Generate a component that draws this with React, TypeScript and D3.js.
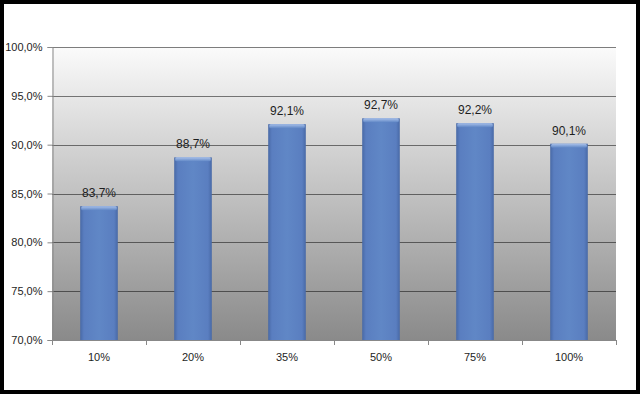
import * as d3 from 'd3';
import { useEffect, useRef } from 'react';

const width = 640;
const height = 394;

const categories = ['10%', '20%', '35%', '50%', '75%', '100%'];
const values = [83.7, 88.7, 92.1, 92.7, 92.2, 90.1];
const yTicks = [70, 75, 80, 85, 90, 95, 100];

const fmt = (v: number) => v.toFixed(1).replace('.', ',') + '%';

const App = () => {
  const containerRef = useRef<HTMLDivElement>(null);

  const margin = { top: 47, right: 24, bottom: 54, left: 52 };
  const font = '"Liberation Sans", Arial, sans-serif';

  useEffect(() => {
    containerRef.current.innerHTML = '';

    const svg = d3
      .select(containerRef.current)
      .append('svg')
      .attr('width', width)
      .attr('height', height)
      .style('display', 'block');

    const defs = svg.append('defs');

    const bg = defs
      .append('linearGradient')
      .attr('id', 'plotBg')
      .attr('x1', 0)
      .attr('y1', 0)
      .attr('x2', 0)
      .attr('y2', 1);
    bg.append('stop').attr('offset', '0%').attr('stop-color', '#fbfbfb');
    bg.append('stop').attr('offset', '35%').attr('stop-color', '#d2d2d2');
    bg.append('stop').attr('offset', '100%').attr('stop-color', '#8a8a8a');

    const barGrad = defs
      .append('linearGradient')
      .attr('id', 'barFill')
      .attr('x1', 0)
      .attr('y1', 0)
      .attr('x2', 1)
      .attr('y2', 0);
    barGrad.append('stop').attr('offset', '0%').attr('stop-color', '#4869a6');
    barGrad.append('stop').attr('offset', '10%').attr('stop-color', '#5a7ec0');
    barGrad.append('stop').attr('offset', '50%').attr('stop-color', '#6087c6');
    barGrad.append('stop').attr('offset', '90%').attr('stop-color', '#5a7ec0');
    barGrad.append('stop').attr('offset', '100%').attr('stop-color', '#4869a6');

    const topGrad = defs
      .append('linearGradient')
      .attr('id', 'barTop')
      .attr('x1', 0)
      .attr('y1', 0)
      .attr('x2', 0)
      .attr('y2', 1);
    topGrad.append('stop').attr('offset', '0%').attr('stop-color', '#a9c1ea');
    topGrad.append('stop').attr('offset', '100%').attr('stop-color', '#6087c6');

    // white page with black frame
    svg
      .append('rect')
      .attr('x', 2)
      .attr('y', 2)
      .attr('width', width - 4)
      .attr('height', height - 4)
      .attr('fill', '#fff')
      .attr('stroke', '#000')
      .attr('stroke-width', 4);

    const x = d3
      .scaleBand()
      .domain(categories)
      .range([margin.left, width - margin.right])
      .paddingInner(0.6)
      .paddingOuter(0.3);

    const y = d3
      .scaleLinear()
      .domain([70, 100])
      .range([height - margin.bottom, margin.top]);

    const plotW = width - margin.right - margin.left;
    const plotH = height - margin.bottom - margin.top;

    svg
      .append('rect')
      .attr('x', margin.left)
      .attr('y', margin.top)
      .attr('width', plotW)
      .attr('height', plotH)
      .attr('fill', 'url(#plotBg)');

    // gridlines
    svg
      .append('g')
      .selectAll('line')
      .data(yTicks.filter((t) => t > 70))
      .join('line')
      .attr('x1', margin.left)
      .attr('x2', width - margin.right)
      .attr('y1', (d) => Math.round(y(d)) + 0.5)
      .attr('y2', (d) => Math.round(y(d)) + 0.5)
      .attr('stroke', '#000')
      .attr('stroke-opacity', 0.5)
      .attr('stroke-width', 1.2);

    // bars
    const bars = svg.append('g');
    bars
      .selectAll('rect.bar')
      .data(values)
      .join('rect')
      .attr('class', 'bar')
      .attr('x', (d, i) => x(categories[i]))
      .attr('y', (d) => y(d))
      .attr('width', x.bandwidth())
      .attr('height', (d) => y(70) - y(d))
      .attr('fill', 'url(#barFill)');

    bars
      .selectAll('rect.top')
      .data(values)
      .join('rect')
      .attr('class', 'top')
      .attr('x', (d, i) => x(categories[i]) + 1)
      .attr('y', (d) => y(d))
      .attr('width', x.bandwidth() - 2)
      .attr('height', 4)
      .attr('rx', 1.5)
      .attr('fill', 'url(#barTop)');

    // value labels
    svg
      .append('g')
      .selectAll('text')
      .data(values)
      .join('text')
      .attr('x', (d, i) => x(categories[i]) + x.bandwidth() / 2)
      .attr('y', (d) => y(d) - 9)
      .attr('text-anchor', 'middle')
      .attr('font-family', font)
      .attr('font-size', 12)
      .attr('fill', '#1e1e1e')
      .text((d) => fmt(d));

    // y axis
    const yAxis = svg
      .append('g')
      .attr('transform', `translate(${margin.left + 0.5},0)`)
      .call(
        d3
          .axisLeft(y)
          .tickValues(yTicks)
          .tickSize(5)
          .tickPadding(5)
          .tickFormat((d) => fmt(d as number))
      );
    yAxis.select('.domain').attr('stroke', '#888');
    yAxis.selectAll('.tick line').attr('stroke', '#888');
    yAxis
      .selectAll('text')
      .attr('font-family', font)
      .attr('font-size', 11)
      .attr('fill', '#1e1e1e');

    // x axis
    const bottom = height - margin.bottom;
    const xAxis = svg.append('g');
    xAxis
      .append('line')
      .attr('x1', margin.left)
      .attr('x2', width - margin.right)
      .attr('y1', bottom + 0.5)
      .attr('y2', bottom + 0.5)
      .attr('stroke', '#888');
    const step = plotW / categories.length;
    xAxis
      .selectAll('line.tick')
      .data(d3.range(categories.length + 1))
      .join('line')
      .attr('class', 'tick')
      .attr('x1', (i) => Math.round(margin.left + i * step) + 0.5)
      .attr('x2', (i) => Math.round(margin.left + i * step) + 0.5)
      .attr('y1', bottom)
      .attr('y2', bottom + 5)
      .attr('stroke', '#888');
    xAxis
      .selectAll('text')
      .data(categories)
      .join('text')
      .attr('x', (d) => x(d) + x.bandwidth() / 2)
      .attr('y', bottom + 21)
      .attr('text-anchor', 'middle')
      .attr('font-family', font)
      .attr('font-size', 11)
      .attr('fill', '#1e1e1e')
      .text((d) => d);
  }, []);

  return (
    <div
      ref={containerRef}
      style={{ position: 'fixed', left: 0, top: 0, width, height }}
    ></div>
  );
};

export default App;
